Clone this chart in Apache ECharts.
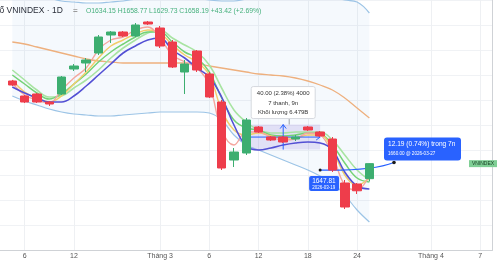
<!DOCTYPE html>
<html><head><meta charset="utf-8">
<script src="https://cdn.jsdelivr.net/npm/echarts@6/dist/echarts.min.js"></script>
<style>html,body{margin:0;padding:0;background:#fff}#c{width:497px;height:261px}</style>
</head><body><div id="c"></div>
<script>
// ---- categories (trading days) ----
const dates = ['2026-02-04','2026-02-05','2026-02-06','2026-02-09','2026-02-10','2026-02-11','2026-02-12','2026-02-13','2026-02-23','2026-02-24','2026-02-25','2026-02-26','2026-02-27','2026-03-02','2026-03-03','2026-03-04','2026-03-05','2026-03-06','2026-03-09','2026-03-10','2026-03-11','2026-03-12','2026-03-13','2026-03-16','2026-03-17','2026-03-18','2026-03-19','2026-03-20','2026-03-23','2026-03-24','2026-03-25','2026-03-26','2026-03-27','2026-03-30','2026-03-31','2026-04-01','2026-04-02','2026-04-03','2026-04-06','2026-04-07','2026-04-08'];
const firstBar = '2026-02-05';
// ---- tick labels ----
const tickDates = ['2026-02-06','2026-02-12','2026-03-02','2026-03-06','2026-03-12','2026-03-18','2026-03-24','2026-04-01','2026-04-07'];
const tickLabels = ['6','12','Tháng 3','6','12','18','24','Tháng 4','7'];
// ---- OHLC ----
const opens  = [1790.4,1766.4,1769.6,1756.8,1769.6,1809.6,1819.2,1835.2,1864.0,1868.8,1862.4,1884.8,1875.2,1852.8,1804.8,1838.4,1801.6,1756.8,1664.0,1675.2,1716.8,1700.8,1700.8,1697.6,1716.8,1708.8,1697.6,1627.2,1625.6,1634.15];
const closes = [1784.0,1756.8,1756.8,1753.6,1796.8,1814.4,1824.0,1860.8,1868.8,1862.4,1880.0,1881.6,1846.4,1812.8,1817.6,1808.0,1764.8,1651.2,1676.8,1728.0,1708.8,1696.0,1692.8,1700.8,1712.0,1702.4,1647.81,1588.8,1614.77,1658.19];
const lows   = [1782.4,1755.2,1755.2,1750.4,1768.0,1806.4,1804.8,1832.0,1851.2,1860.8,1860.8,1880.0,1843.2,1811.2,1769.6,1804.8,1763.2,1648.0,1652.8,1672.0,1707.2,1694.4,1691.2,1694.4,1710.4,1700.8,1644.8,1585.6,1609.6,1629.73];
const highs  = [1792.0,1768.0,1771.2,1758.4,1798.4,1817.6,1827.2,1864.0,1870.4,1870.4,1883.2,1886.4,1878.4,1856.0,1824.0,1840.0,1804.8,1760.0,1683.2,1731.2,1718.4,1702.4,1702.4,1704.0,1718.4,1710.4,1700.8,1632.0,1627.2,1658.77];
// ---- indicator lines ----
const bandUpper = [1936,1932.8,1928,1923.2,1918.4,1916.8,1915.2,1915.2,1916.8,1918.4,1921.6,1924.8,1928,1928,1926.4,1923.2,1920,1918.4,1918.4,1921.6,1924.8,1928,1929.6,1929.6,1929.6,1928,1924.8,1920,1916.8,1899.2];
const bandLower = [1766.4,1758.4,1752.0,1745.6,1740.8,1737.6,1736.0,1734.4,1734.4,1736.0,1737.6,1739.2,1740.8,1740.8,1740.8,1740.8,1739.2,1728.0,1704.0,1688.0,1680.0,1672.0,1664.0,1656.0,1648.0,1638.4,1627.2,1608.0,1584.0,1564.8];
const maOrange = [1852.8,1849.6,1844.8,1840.0,1835.2,1830.4,1825.6,1822.4,1820.8,1819.2,1819.2,1819.2,1819.2,1819.2,1819.2,1817.6,1814.4,1811.2,1808.0,1804.8,1801.6,1800.0,1798.4,1795.2,1790.4,1784.0,1776.0,1763.2,1747.2,1731.2];
const maIndigo = [1780.8,1771.2,1763.2,1756.8,1756.8,1766.4,1782.4,1800.0,1817.6,1835.2,1846.4,1856.0,1859.2,1840.0,1827.2,1811.2,1796.8,1764.8,1720.0,1686.4,1680.0,1683.2,1688.0,1691.2,1692.8,1691.2,1680.0,1644.8,1622.4,1617.6];
const maGreenLight = [1808.0,1792.0,1776.0,1764.8,1766.4,1779.2,1792.0,1808.0,1827.2,1843.2,1856.0,1867.2,1872.0,1859.2,1848.0,1836.8,1816.0,1779.2,1744.0,1724.8,1712.0,1707.2,1707.2,1708.8,1708.8,1708.8,1696.0,1672.0,1648.0,1632.0];
const maGreen = [1800.0,1785.6,1771.2,1761.6,1769.6,1785.6,1801.6,1820.8,1836.8,1849.6,1860.8,1868.8,1868.8,1852.8,1836.8,1827.2,1804.8,1763.2,1728.0,1715.2,1712.0,1704.0,1702.4,1704.0,1707.2,1705.6,1688.0,1659.2,1635.2,1628.8];
const maYellow = [1792.0,1772.8,1763.2,1756.8,1766.4,1785.6,1804.8,1827.2,1846.4,1856.0,1865.6,1872.0,1867.2,1848.0,1832.0,1820.8,1800.0,1744.0,1712.0,1704.0,1707.2,1702.4,1699.2,1699.2,1704.0,1704.0,1680.0,1640.0,1624.0,1635.2];
const maSalmon = [1787.2,1768.0,1760.0,1755.2,1776.0,1795.2,1811.2,1840.0,1856.0,1860.8,1872.0,1876.8,1859.2,1832.0,1820.8,1811.2,1784.0,1712.0,1688.0,1708.8,1708.8,1700.8,1696.0,1697.6,1707.2,1704.0,1672.0,1624.0,1616.0,1640.0];
// ---- drawings ----
const rangeFrom = '2026-03-11', rangeTo = '2026-03-19';
const rangeLow = 1680.7, rangeHigh = 1720.7;
const rangeLines = ['40.00 (2.38%) 4000', '7 thanh, 9n', 'Khối lượng 6.479B'];
const measureFrom = ['2026-03-19', 1647.81], measureTo = ['2026-03-27', 1660.00];
const measureText = ['12.19 (0.74%) trong 7n', '1660.00 @ 2026-03-27'];
const startText = ['1647.81', '2026-03-19'];
const titleText = 'ố VNINDEX · 1D';
const ohlcText = 'O1634.15 H1658.77 L1629.73 C1658.19 +43.42 (+2.69%)';

const off = dates.indexOf(firstBar);
const pad = arr => dates.map((d, k) => (k >= off && k - off < arr.length) ? arr[k - off] : '-');
const candleData = dates.map((d, k) => {
  const j = k - off;
  return (j >= 0 && j < opens.length) ? [opens[j], closes[j], lows[j], highs[j]] : '-';
});
const diff = bandUpper.map((u, i) => +(u - bandLower[i]).toFixed(2));
const isTick = (idx, val) => tickDates.indexOf(val) >= 0;

const line = (name, data, color, w) => ({
  name, type: 'line', data: pad(data), smooth: 0.4, symbol: 'none', z: 3,
  lineStyle: { color, width: w || 1.5 }, silent: true
});

const chart = echarts.init(document.getElementById('c'), null, { renderer: 'canvas' });
const option = {
  animation: false,
  grid: { left: -7.5, right: 4.5, top: 0, bottom: 11, containLabel: false },
  xAxis: {
    type: 'category', data: dates, boundaryGap: false,
    axisLine: { lineStyle: { color: '#cfd2d6' } },
    axisTick: { show: false },
    axisLabel: { interval: isTick, formatter: v => tickLabels[tickDates.indexOf(v)], color: '#555', fontSize: 7, margin: 3, fontFamily: 'Liberation Sans' },
    splitLine: { show: true, interval: isTick, lineStyle: { color: '#eef0f3', width: 1 } }
  },
  yAxis: {
    type: 'value', position: 'right', min: 1520, max: 1920, interval: 40,
    axisLine: { show: true, lineStyle: { color: '#cfd2d6' } },
    axisTick: { show: false }, axisLabel: { show: false },
    splitLine: { lineStyle: { color: '#f0f2f5' } }
  },
  series: [
    { name: 'bbLower', type: 'line', data: pad(bandLower), stack: 'bb', smooth: 0.4, symbol: 'none', z: 1,
      lineStyle: { color: '#9cc4e6', width: 1.2 } },
    { name: 'bbFill', type: 'line', data: pad(diff), stack: 'bb', smooth: 0.4, symbol: 'none', z: 1,
      lineStyle: { width: 0 }, areaStyle: { color: 'rgba(120,175,230,0.10)' } },
    line('bbUpper', bandUpper, '#9cc4e6', 1.2),
    line('orange', maOrange, '#eeb07e', 1.3),
    line('greenLight', maGreenLight, '#a8e4a2', 1.6),
    line('green', maGreen, '#74d276', 1.5),
    line('yellow', maYellow, '#f2cd6a', 1.4),
    line('salmon', maSalmon, '#f5a69e', 1.4),
    line('indigo', maIndigo, '#5350d4', 1.6),
    { name: 'VNINDEX', type: 'candlestick', data: candleData, barWidth: 9, z: 5,
      itemStyle: { color: '#3dae70', color0: '#ee3d4b', borderColor: '#3dae70', borderColor0: '#ee3d4b', borderWidth: 1 } }
  ]
};
chart.setOption(option);

const P = (d, v) => chart.convertToPixel({ gridIndex: 0 }, [dates.indexOf(d), v]);
const blue = '#2962ff';
const F = 'Liberation Sans';
const g = [];
// range box
const [xa, yTop] = P(rangeFrom, rangeHigh);
const [xb, yBot] = P(rangeTo, rangeLow);
const xm = (xa + xb) / 2, ym = (yTop + yBot) / 2;
g.push({ type: 'rect', z: 2, shape: { x: xa, y: yTop, width: xb - xa, height: yBot - yTop }, style: { fill: 'rgba(126,96,214,0.16)' } });
g.push({ type: 'line', z: 4, shape: { x1: xa, y1: ym, x2: xb, y2: ym }, style: { stroke: blue, lineWidth: 1 } });
g.push({ type: 'polyline', z: 4, shape: { points: [[xb - 4, ym - 3], [xb, ym], [xb - 4, ym + 3]] }, style: { stroke: blue, lineWidth: 1, fill: null } });
g.push({ type: 'line', z: 4, shape: { x1: xm, y1: yBot, x2: xm, y2: yTop }, style: { stroke: blue, lineWidth: 1 } });
g.push({ type: 'polyline', z: 4, shape: { points: [[xm - 3, yTop + 4], [xm, yTop], [xm + 3, yTop + 4]] }, style: { stroke: blue, lineWidth: 1, fill: null } });
g.push({ type: 'line', z: 4, shape: { x1: xm + 6, y1: yTop - 7, x2: xm + 6, y2: yTop }, style: { stroke: '#9aa0a6', lineWidth: 1 } });
g.push({ type: 'rect', z: 6, shape: { x: xm - 32, y: yTop - 38, width: 64, height: 32, r: 2 }, style: { fill: '#ffffff', stroke: '#d6d9de', lineWidth: 1 } });
rangeLines.forEach((t, k) => g.push({ type: 'text', z: 7, x: xm, y: yTop - 31 + k * 9.5,
  style: { text: t, fill: '#333', font: '6px ' + F, align: 'center', verticalAlign: 'middle' } }));
// measure line
const [mx0, my0] = P(measureFrom[0], measureFrom[1]);
const [mx1, my1] = P(measureTo[0], measureTo[1]);
g.push({ type: 'bezierCurve', z: 4, shape: { x1: mx0, y1: my0, x2: mx1, y2: my1, cpx1: mx1 - 22, cpy1: my0 + 1 }, style: { stroke: blue, lineWidth: 1.3, fill: null } });
g.push({ type: 'circle', z: 8, shape: { cx: mx1, cy: my1, r: 1.8 }, style: { fill: '#1a1a1a' } });
g.push({ type: 'circle', z: 4, shape: { cx: mx0, cy: my0, r: 1.5 }, style: { fill: '#1a1a1a' } });
g.push({ type: 'rect', z: 8, shape: { x: mx1 - 10, y: my1 - 25, width: 77, height: 23, r: 3 }, style: { fill: blue } });
g.push({ type: 'text', z: 9, x: mx1 - 6, y: my1 - 18, style: { text: measureText[0], fill: '#fff', font: '6.6px ' + F, verticalAlign: 'middle' } });
g.push({ type: 'text', z: 9, x: mx1 - 6, y: my1 - 9, style: { text: measureText[1], fill: '#fff', font: '4.6px ' + F, verticalAlign: 'middle' } });
g.push({ type: 'rect', z: 4, shape: { x: mx0 - 11, y: my0 + 6, width: 30, height: 15, r: 2 }, style: { fill: blue } });
g.push({ type: 'text', z: 4, x: mx0 - 8, y: my0 + 11, style: { text: startText[0], fill: '#fff', font: '6.5px ' + F, verticalAlign: 'middle' } });
g.push({ type: 'text', z: 4, x: mx0 - 8, y: my0 + 17.5, style: { text: startText[1], fill: '#fff', font: '4.5px ' + F, verticalAlign: 'middle' } });
// last price label
const [, yLast] = P(dates[off + closes.length - 1], closes[closes.length - 1]);
g.push({ type: 'rect', z: 8, shape: { x: 469, y: yLast - 3.5, width: 28, height: 7 }, style: { fill: '#7fcf95' } });
g.push({ type: 'text', z: 9, x: 483, y: yLast, style: { text: 'VNINDEX', fill: '#163d22', font: '5px ' + F, align: 'center', verticalAlign: 'middle' } });
// header
g.push({ type: 'text', z: 10, x: -0.5, y: 11, style: { text: titleText, fill: '#2a2e39', font: '8.5px ' + F, verticalAlign: 'middle' } });
g.push({ type: 'text', z: 10, x: 73, y: 11, style: { text: '=', fill: '#9a9a9a', font: 'bold 8px ' + F, verticalAlign: 'middle' } });
g.push({ type: 'text', z: 10, x: 86, y: 11, style: { text: ohlcText, fill: '#45b07c', font: '6.8px ' + F, verticalAlign: 'middle' } });
chart.setOption({ graphic: g });
</script></body></html>
